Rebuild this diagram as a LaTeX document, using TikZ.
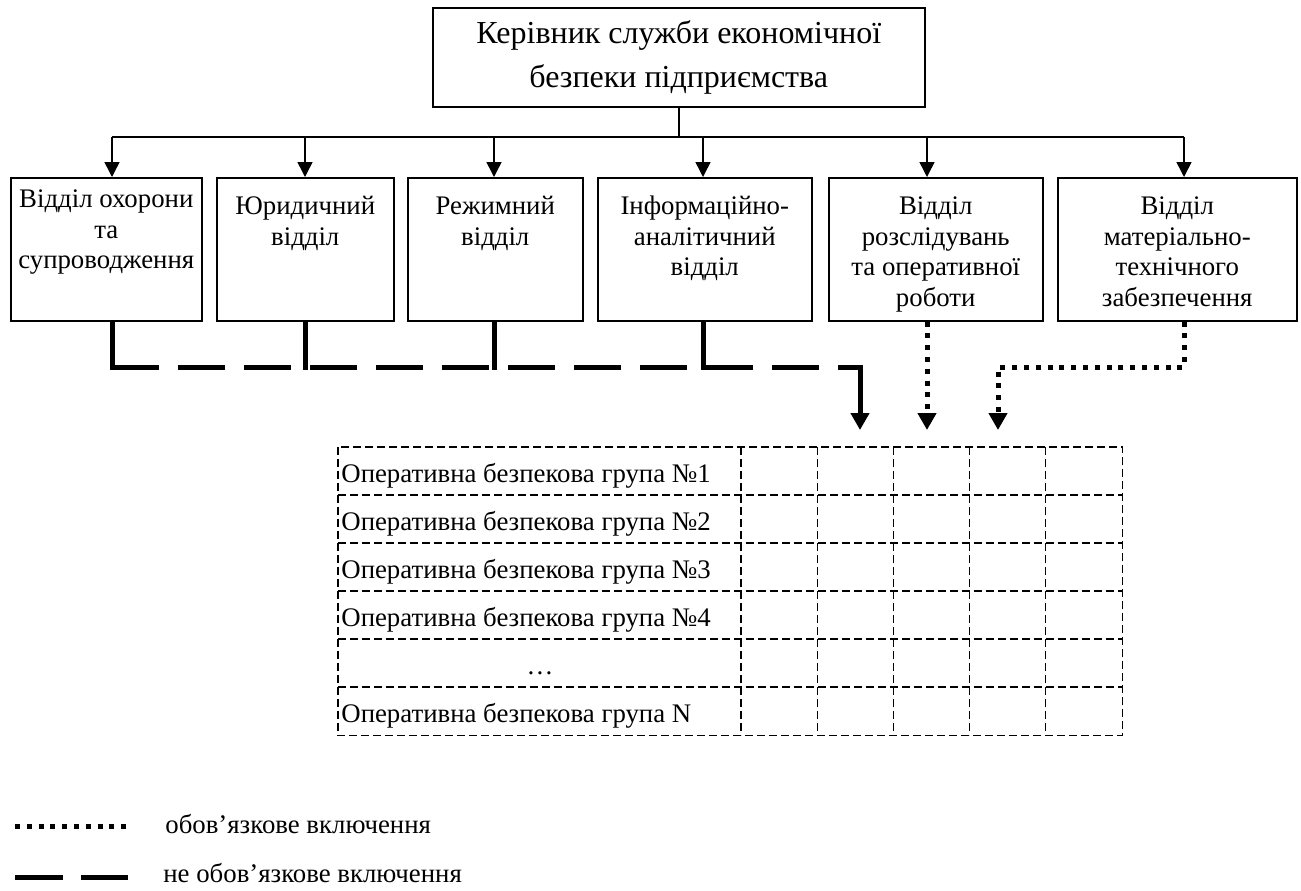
\documentclass[tikz,border=0pt]{standalone}
\usepackage{fontspec}
\setmainfont{Liberation Serif}
\usetikzlibrary{arrows.meta}
\newcommand\dboxtext[3]{\parbox[c][71.5pt][t]{#1}{\centering\rule{0pt}{#2}#3}}
\begin{document}
\begin{tikzpicture}[x=0.5pt,y=-0.5pt,
  thinline/.style={line width=0.75pt},
  box/.style={draw, line width=0.75pt, inner sep=0pt, anchor=north west},
  deptfont/.style={font=\fontsize{13.4}{15.3}\selectfont},
  arr/.style={line width=0.75pt, -{Triangle[width=7.5pt,length=7.5pt]}},
  heavy/.style={line width=2.5pt},
  dashline/.style={line width=2.5pt, dash pattern=on 23.5pt off 9.5pt},
  dotline/.style={line width=2.5pt, dash pattern=on 2.5pt off 3.4pt},
  bigarr/.style={-{Triangle[width=9pt,length=8.5pt]}},
  gridline/.style={line width=0.65pt, dash pattern=on 4pt off 2pt},
  small/.style={font=\fontsize{13.4}{15}\selectfont, inner sep=0pt},
]
\useasboundingbox (0,0) rectangle (1301,890);

% top box
\node[box, minimum width=246pt, minimum height=49.5pt,
      font=\fontsize{16}{22}\selectfont, align=center] (top) at (432,7)
  {Керівник служби економічної\\безпеки підприємства};

% department boxes
\node[box, deptfont] (b1) at (10,177)  {\dboxtext{95.5pt}{15pt}{Відділ охорони\\та\\супроводження}};
\node[box, deptfont] (b2) at (216,177) {\dboxtext{88.5pt}{18.5pt}{Юридичний\\відділ}};
\node[box, deptfont] (b3) at (407,177) {\dboxtext{87.5pt}{18.5pt}{Режимний\\відділ}};
\node[box, deptfont] (b4) at (597,177) {\dboxtext{107pt}{18.5pt}{Інформаційно-\\аналітичний\\відділ}};
\node[box, deptfont] (b5) at (828,177) {\dboxtext{107pt}{18.5pt}{Відділ\\розслідувань\\та оперативної\\роботи}};
\node[box, deptfont] (b6) at (1057,177){\dboxtext{119.5pt}{18.5pt}{Відділ\\матеріально-\\технічного\\забезпечення}};

% bus
\coordinate (a1) at (112,137);
\coordinate (a2) at (305,137);
\coordinate (a3) at (494,137);
\coordinate (a4) at (703,137);
\coordinate (a5) at (927,137);
\coordinate (a6) at (1184,137);
\draw[thinline] (top.south) -- (top.south |- a1);
\draw[thinline] (a1) -- (a6);
\foreach \i in {1,...,6} \draw[arr] (a\i) -- (a\i |- b\i.north);

% table
\node[inner sep=0pt, minimum width=392pt, minimum height=144pt, anchor=north west] (tab) at (338,447) {};
\draw[gridline] (tab.north west) rectangle (tab.south east);
\foreach \y in {495,543,591,639,687} \draw[gridline] (338,\y) -- (1122,\y);
\foreach \x in {741,817.2,893.4,969.6,1045.8} \draw[gridline] (\x,447) -- (\x,735);
\node[small, anchor=base west] (r1) at (341,482) {Оперативна безпекова група №1};
\node[small, anchor=base west] (r2) at (341,530) {Оперативна безпекова група №2};
\node[small, anchor=base west] (r3) at (341,578) {Оперативна безпекова група №3};
\node[small, anchor=base west] (r4) at (341,626) {Оперативна безпекова група №4};
\node[small, anchor=base] (r5) at (540,674) {…};
\node[small, anchor=base west] (r6) at (341,722) {Оперативна безпекова група N};

% non-mandatory (dashed) links
\coordinate (d1) at (112,367);
\coordinate (d2) at (305,367);
\coordinate (d3) at (494,367);
\coordinate (d4) at (703,367);
\coordinate (dE) at (860,367);
\coordinate (t1) at (860,430);
\foreach \i in {1,...,4} \draw[heavy] (d\i |- b\i.south) -- ([yshift=-1.25pt]d\i);
\draw[dashline] (d1) -- (dE);
\draw[heavy, bigarr] ([yshift=1.25pt]dE) -- (t1);

% mandatory (dotted) links
\coordinate (t2) at (927,430);
\coordinate (k6) at (1184,367);
\coordinate (t3) at (998,430);
\draw[dotline, bigarr] (t2 |- b5.south) -- (t2);
\draw[dotline, bigarr] (k6 |- b6.south) -- (k6) -| (t3);

% legend
\coordinate (l1a) at (15,826);
\coordinate (l1b) at (127,826);
\coordinate (l2a) at (15,877);
\coordinate (l2b) at (128,877);
\draw[dotline] (l1a) -- (l1b);
\draw[heavy, dash pattern=on 24pt off 9pt] (l2a) -- (l2b);
\node[small, anchor=base west] (lg1) at (165,833) {обов’язкове включення};
\node[small, anchor=base west] (lg2) at (163,882) {не обов’язкове включення};
\end{tikzpicture}
\end{document}
